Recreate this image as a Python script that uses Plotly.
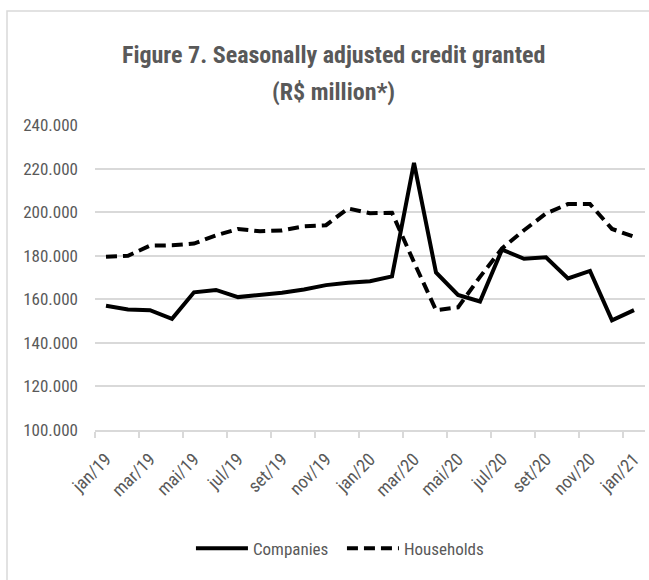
import plotly.graph_objects as go

# Monthly reference periods (Portuguese month abbreviations)
months = ["jan/19", "fev/19", "mar/19", "abr/19", "mai/19", "jun/19", "jul/19",
          "ago/19", "set/19", "out/19", "nov/19", "dez/19", "jan/20", "fev/20",
          "mar/20", "abr/20", "mai/20", "jun/20", "jul/20", "ago/20", "set/20",
          "out/20", "nov/20", "dez/20", "jan/21"]

# Seasonally adjusted credit granted, R$ million (thousands shown with "." separator)
companies = [157.0, 155.3, 155.0, 151.0, 163.2, 164.3, 161.0, 161.8, 163.0, 164.5,
             166.5, 167.6, 168.3, 170.5, 222.6, 172.3, 162.0, 159.0, 182.8, 178.6,
             179.3, 169.6, 173.0, 150.3, 155.0]
households = [179.5, 180.0, 184.6, 184.8, 185.6, 189.3, 192.3, 191.2, 191.6, 193.5,
              194.0, 201.7, 199.5, 199.7, 177.0, 155.0, 156.3, 170.3, 183.3, 191.7,
              199.4, 203.7, 203.7, 192.3, 188.7]

y_ticks = [100, 120, 140, 160, 180, 200, 220, 240]
y_tick_text = [f"{v}.000" for v in y_ticks]

title_lines = ["Figure 7. Seasonally adjusted credit granted", "(R$ million*)"]

FONT = "Roboto Condensed, Liberation Sans Narrow, Arial Narrow, sans-serif"
GREY = "#595959"
LIGHT = "#d9d9d9"

fig = go.Figure()
fig.add_trace(go.Scatter(x=months, y=companies, name="Companies", mode="lines",
                         line=dict(color="black", width=4)))
fig.add_trace(go.Scatter(x=months, y=households, name="Households", mode="lines",
                         line=dict(color="black", width=4, dash="11px,6px")))

# Two-line bold title drawn as separate annotations for precise line spacing
title_annots = [
    dict(text=f"<b>{line}</b>", xref="paper", yref="paper", x=0.4336, y=yy,
         xanchor="center", yanchor="middle", showarrow=False,
         font=dict(size=24, color=GREY, family=FONT))
    for line, yy in zip(title_lines, [1.228, 1.108])
]

fig.update_layout(
    width=649, height=580,
    margin=dict(l=95, r=4, t=125, b=150),
    paper_bgcolor="white", plot_bgcolor="white",
    font=dict(family=FONT, color=GREY),
    annotations=title_annots,
    showlegend=True,
    legend=dict(orientation="h", x=0.449, xanchor="center", y=-0.33, yanchor="top",
                font=dict(size=17, color=GREY), itemwidth=52,
                entrywidth=84, entrywidthmode="pixels"),
    shapes=[dict(type="rect", xref="paper", yref="paper",
                 x0=-0.16, x1=1.2, y0=-0.7, y1=1.374,
                 line=dict(color=LIGHT, width=1.5), layer="below")],
)

fig.update_xaxes(type="category", tickson="boundaries", dtick=2, tickangle=-45,
                 ticks="outside", ticklen=6, tickcolor=LIGHT, tickwidth=1.5,
                 showgrid=False, showline=True, linecolor=LIGHT, linewidth=1.5,
                 ticklabelstandoff=10,
                 tickfont=dict(size=18, color=GREY), range=[-0.5, 24.5])
fig.update_yaxes(range=[100, 240], tickvals=y_ticks, ticktext=y_tick_text,
                 showgrid=True, gridcolor=LIGHT, gridwidth=1.5, zeroline=False,
                 showline=False, ticklabelstandoff=16,
                 tickfont=dict(size=17, color=GREY))

fig.write_html("out.html")
